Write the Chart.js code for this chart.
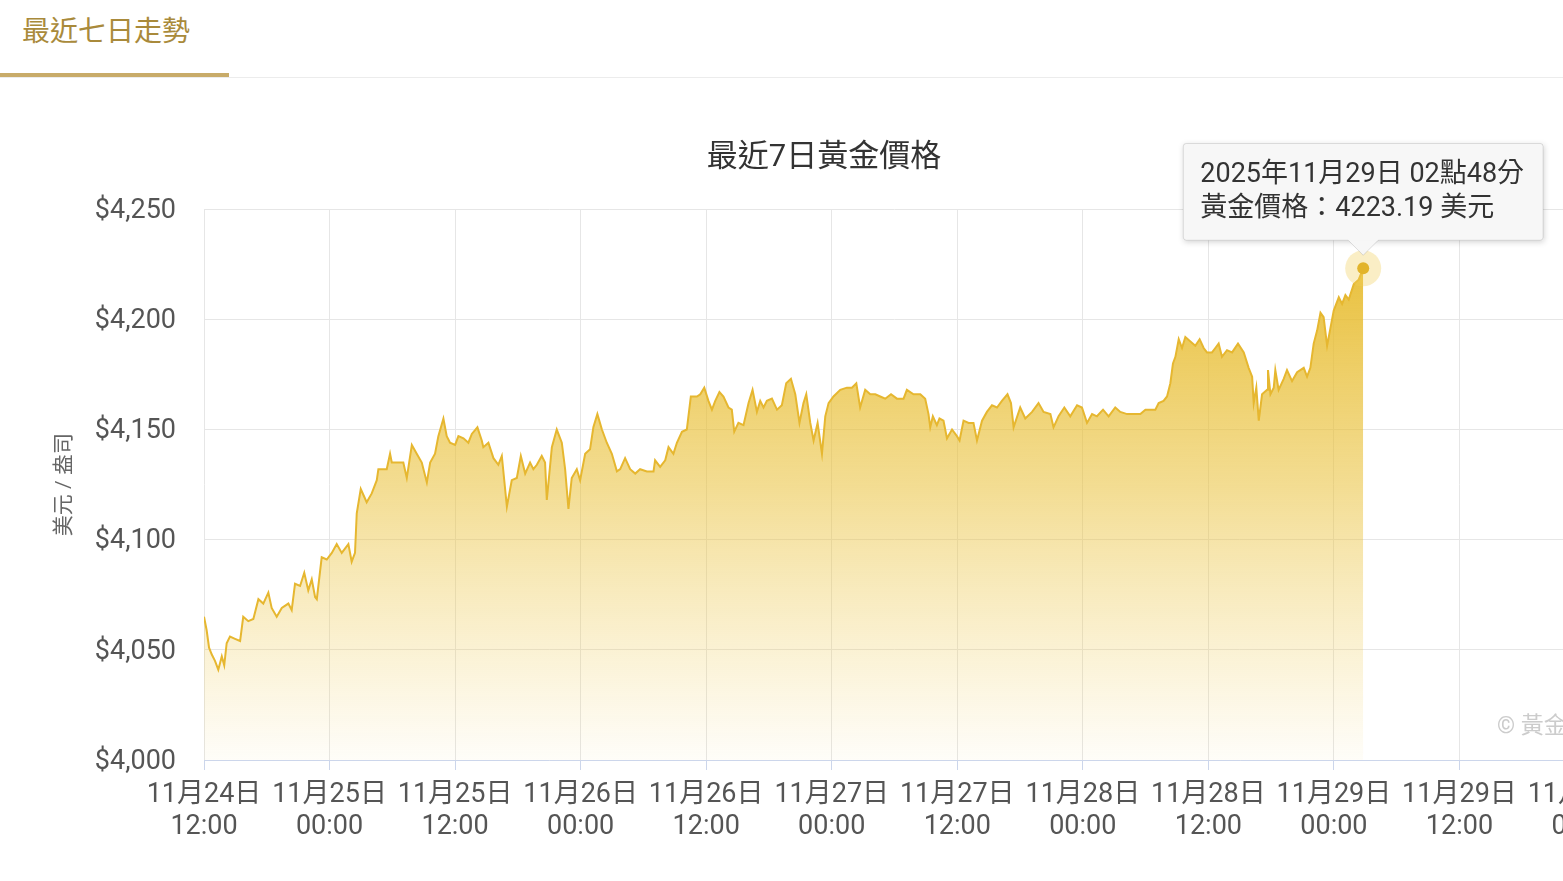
<!DOCTYPE html>
<html>
<head>
    <meta charset="utf-8">
    <title>最近七日走勢</title>
    <script src="https://cdn.jsdelivr.net/npm/chart.js@4/dist/chart.umd.min.js"></script>
    <style>
        html, body {
            margin: 0;
            padding: 0;
            width: 1563px;
            height: 881px;
            overflow: hidden;
            background: #fff;
            font-family: Roboto, "Noto Sans CJK TC", sans-serif;
        }
        .tabs {
            position: absolute;
            left: 0;
            top: 0;
            width: 1563px;
            height: 77px;
            border-bottom: 1px solid #ececec;
        }
        .tab {
            position: absolute;
            left: 0;
            top: 0;
            width: 229px;
            height: 73px;
            border-bottom: 4px solid #c8ab69;
            box-sizing: content-box;
        }
        .tab span {
            position: absolute;
            left: 22px;
            top: 13px;
            font-size: 28px;
            line-height: 38px;
            color: #a98a3b;
        }
        .chart-box {
            position: absolute;
            left: 0;
            top: 90px;
            width: 1648px;
            height: 791px;
        }
    </style>
</head>
<body>
    <div class="tabs"><div class="tab"><span>最近七日走勢</span></div></div>
    <div class="chart-box">
        <canvas id="goldChart" width="1648" height="791"></canvas>
    </div>

    <script>
        // minutes after 2025-11-24 12:00 (Taipei time)
        const startTime = Date.UTC(2025, 10, 24, 12, 0);
        const minutes = [
            0, 15, 29, 44, 63, 82, 102, 116, 130, 149, 178, 207, 225, 254, 283, 312, 340, 369, 388, 417,
            446, 484, 503, 522, 551, 575, 598, 618, 637, 647, 675, 704, 733, 761, 790, 828, 847, 866, 876, 899,
            933, 962, 991, 1000, 1048, 1067, 1077, 1143, 1163, 1192, 1220, 1249, 1278, 1297, 1325, 1344, 1373, 1392, 1411, 1440,
            1459, 1488, 1516, 1536, 1568, 1593, 1602, 1631, 1660, 1688, 1708, 1737, 1765, 1794, 1817, 1842, 1870, 1889, 1909, 1937,
            1956, 1966, 1995, 2023, 2052, 2071, 2090, 2109, 2138, 2157, 2186, 2214, 2233, 2256, 2282, 2310, 2339, 2368, 2387, 2415,
            2444, 2473, 2501, 2540, 2578, 2587, 2616, 2645, 2664, 2692, 2712, 2741, 2769, 2792, 2827, 2846, 2869, 2893, 2913, 2932,
            2956, 2979, 3008, 3027, 3041, 3065, 3094, 3123, 3146, 3171, 3190, 3209, 3228, 3257, 3286, 3314, 3339, 3366, 3391, 3415,
            3438, 3454, 3477, 3496, 3519, 3544, 3563, 3582, 3610, 3649, 3687, 3716, 3741, 3763, 3792, 3821, 3850, 3878, 3907, 3940,
            3974, 4012, 4031, 4069, 4108, 4136, 4155, 4165, 4180, 4203, 4218, 4241, 4261, 4290, 4318, 4333, 4356, 4385, 4413, 4433,
            4462, 4490, 4519, 4548, 4576, 4608, 4628, 4643, 4681, 4710, 4749, 4786, 4815, 4854, 4872, 4901, 4934, 4968, 5007, 5035,
            5064, 5093, 5121, 5156, 5188, 5226, 5255, 5294, 5370, 5399, 5456, 5475, 5503, 5523, 5542, 5557, 5571, 5590, 5609, 5628,
            5657, 5685, 5710, 5733, 5752, 5781, 5800, 5819, 5838, 5867, 5896, 5930, 5963, 5991, 6011, 6020, 6035, 6049, 6068, 6097,
            6102, 6116, 6135, 6144, 6163, 6192, 6211, 6240, 6269, 6307, 6326, 6345, 6364, 6384, 6403, 6421, 6441, 6460, 6479, 6508,
            6527, 6546, 6565, 6594, 6622, 6648
        ];
        // USD per ounce
        const prices = [
            4065, 4059, 4051, 4048, 4045, 4041, 4047, 4043, 4053, 4056, 4055, 4054, 4065, 4063, 4064, 4073, 4071, 4076, 4069, 4065,
            4069, 4071, 4068, 4080, 4079, 4085, 4077, 4082, 4074, 4073, 4092, 4091, 4094, 4098, 4094, 4098, 4090, 4094, 4112, 4123,
            4117, 4121, 4127, 4132, 4132, 4139, 4135, 4135, 4128, 4143, 4139, 4135, 4126, 4135, 4139, 4147, 4155, 4147, 4144, 4143,
            4147, 4146, 4144, 4148, 4151, 4145, 4142, 4144, 4137, 4134, 4138, 4115, 4127, 4128, 4138, 4130, 4135, 4132, 4134, 4138,
            4135, 4118, 4142, 4150, 4144, 4132, 4114, 4128, 4132, 4127, 4139, 4141, 4151, 4157, 4150, 4144, 4139, 4131, 4132, 4137,
            4132, 4130, 4132, 4131, 4131, 4136, 4133, 4136, 4142, 4139, 4144, 4149, 4150, 4165, 4165, 4166, 4169, 4163, 4159, 4163,
            4167, 4165, 4160, 4159, 4149, 4153, 4152, 4162, 4168, 4158, 4163, 4160, 4163, 4164, 4159, 4161, 4171, 4173, 4166, 4153,
            4162, 4166, 4153, 4145, 4153, 4139, 4156, 4162, 4165, 4168, 4169, 4169, 4171, 4160, 4168, 4166, 4166, 4165, 4164, 4166,
            4164, 4164, 4168, 4166, 4166, 4164, 4157, 4151, 4156, 4152, 4155, 4154, 4146, 4150, 4147, 4145, 4154, 4153, 4153, 4145,
            4154, 4158, 4161, 4160, 4163, 4166, 4162, 4151, 4160, 4155, 4158, 4162, 4158, 4157, 4151, 4156, 4160, 4156, 4161, 4160,
            4153, 4157, 4156, 4159, 4156, 4160, 4158, 4157, 4157, 4159, 4159, 4162, 4163, 4165, 4171, 4180, 4183, 4191, 4187, 4192,
            4190, 4188, 4191, 4187, 4185, 4185, 4187, 4189, 4183, 4186, 4185, 4189, 4185, 4178, 4174, 4162, 4169, 4154, 4166, 4168,
            4177, 4166, 4169, 4177, 4168, 4173, 4177, 4172, 4176, 4178, 4174, 4178, 4189, 4195, 4203, 4201, 4188, 4196, 4204, 4210,
            4207, 4211, 4209, 4216, 4218, 4223.19
        ];

        const last = prices.length - 1;
        const lastPoint = [{ x: minutes[last], y: prices[last] }];
        const lineColor = '#e6b730';
        const textColor = '#555';

        function toDate(m) {
            return new Date(startTime + m * 60000);
        }
        function pad(n) {
            return String(n).padStart(2, '0');
        }

        Chart.defaults.font.family = 'Roboto, "Noto Sans CJK TC", sans-serif';
        Chart.defaults.color = textColor;

        // soft shadow behind the tooltip box + the credits text
        const extras = {
            id: 'extras',
            beforeTooltipDraw(chart, args) {
                const tt = args.tooltip;
                const c = chart.ctx;
                c.save();
                c.shadowColor = 'rgba(0,0,0,0.18)';
                c.shadowBlur = 6;
                c.shadowOffsetX = 1;
                c.shadowOffsetY = 2;
                c.fillStyle = '#f7f7f7';
                c.fillRect(tt.x, tt.y, tt.width, tt.height);
                c.restore();
            },
            afterDatasetsDraw(chart) {
                const c = chart.ctx;
                c.save();
                c.font = '23px Roboto, "Noto Sans CJK TC", sans-serif';
                c.fillStyle = '#cccccc';
                c.textBaseline = 'middle';
                c.fillText('© 黃金價格網', chart.width - 151, chart.chartArea.bottom - 33);
                c.restore();
            }
        };

        const chart = new Chart(document.getElementById('goldChart'), {
            type: 'line',
            data: {
                datasets: [{
                    label: 'marker',
                    data: lastPoint,
                    pointRadius: 6,
                    pointBackgroundColor: '#e2b42b',
                    pointBorderColor: '#e2b42b',
                    pointBorderWidth: 0,
                    showLine: false
                }, {
                    label: 'halo',
                    data: lastPoint,
                    pointRadius: 18,
                    pointBackgroundColor: 'rgba(240, 205, 90, 0.35)',
                    pointBorderWidth: 0,
                    showLine: false
                }, {
                    label: '黃金價格',
                    data: minutes.map((m, i) => ({ x: m, y: prices[i] })),
                    borderColor: lineColor,
                    borderWidth: 2,
                    pointRadius: 0,
                    tension: 0,
                    fill: 'start',
                    backgroundColor: (ctx) => {
                        const area = ctx.chart.chartArea;
                        if (!area) return 'rgba(230,185,40,0.5)';
                        const g = ctx.chart.ctx.createLinearGradient(0, area.top, 0, area.bottom);
                        g.addColorStop(0, 'rgba(230, 185, 40, 1)');
                        g.addColorStop(0.5, 'rgba(233, 192, 55, 0.55)');
                        g.addColorStop(1, 'rgba(240, 205, 90, 0.04)');
                        return g;
                    }
                }]
            },
            options: {
                responsive: false,
                animation: false,
                events: [],
                layout: { padding: { top: 20, left: 0, right: 0, bottom: 0 } },
                plugins: {
                    legend: { display: false },
                    title: {
                        display: true,
                        text: '最近7日黃金價格',
                        color: '#333',
                        font: { size: 31, weight: 'normal' },
                        padding: { top: 30, bottom: 32 }
                    },
                    tooltip: {
                        enabled: true,
                        xAlign: 'center',
                        yAlign: 'bottom',
                        backgroundColor: 'rgba(247, 247, 247, 0.97)',
                        borderColor: 'rgba(0, 0, 0, 0.12)',
                        borderWidth: 1,
                        cornerRadius: 3,
                        caretSize: 15,
                        caretPadding: 13,
                        padding: { top: 16, bottom: 15, left: 17, right: 19 },
                        displayColors: false,
                        titleColor: '#333',
                        bodyColor: '#333',
                        titleFont: { size: 27, weight: 'normal' },
                        bodyFont: { size: 27, weight: 'normal' },
                        titleMarginBottom: 1,
                        callbacks: {
                            title: (items) => {
                                const d = toDate(items[0].parsed.x);
                                return d.getUTCFullYear() + '年' + (d.getUTCMonth() + 1) + '月' + d.getUTCDate() + '日 ' +
                                    pad(d.getUTCHours()) + '點' + pad(d.getUTCMinutes()) + '分';
                            },
                            label: (item) => '黃金價格：' + item.parsed.y.toFixed(2) + ' 美元'
                        }
                    }
                },
                scales: {
                    x: {
                        type: 'linear',
                        min: 0,
                        max: 7920,
                        afterFit: (scale) => {
                            scale.height = 121;
                            scale.paddingRight = 63;
                        },
                        grid: {
                            color: '#e6e6e6',
                            tickColor: '#ccd6eb',
                            tickLength: 10
                        },
                        border: { color: '#ccd6eb', width: 1 },
                        ticks: {
                            stepSize: 720,
                            maxTicksLimit: 30,
                            autoSkip: false,
                            maxRotation: 0,
                            padding: 9,
                            color: textColor,
                            font: { size: 27 },
                            callback: (v) => {
                                const d = toDate(v);
                                return [(d.getUTCMonth() + 1) + '月' + d.getUTCDate() + '日',
                                    pad(d.getUTCHours()) + ':' + pad(d.getUTCMinutes())];
                            }
                        }
                    },
                    y: {
                        min: 4000,
                        max: 4250,
                        afterFit: (scale) => { scale.width = 204; },
                        grid: { color: '#e6e6e6', drawTicks: false },
                        border: { display: false },
                        title: {
                            display: true,
                            text: '美元 / 盎司',
                            color: '#666',
                            font: { size: 21 },
                            padding: { top: 52, bottom: 0 }
                        },
                        ticks: {
                            stepSize: 50,
                            padding: 28,
                            labelOffset: 2,
                            color: textColor,
                            font: { size: 27 },
                            callback: (v) => '$' + v.toLocaleString('en-US')
                        }
                    }
                }
            },
            plugins: [extras]
        });

        const m = chart.getDatasetMeta(0).data[0];
        chart.tooltip.setActiveElements([{ datasetIndex: 0, index: 0 }], { x: m.x, y: m.y });
        chart.update();
    </script>
</body>
</html>
